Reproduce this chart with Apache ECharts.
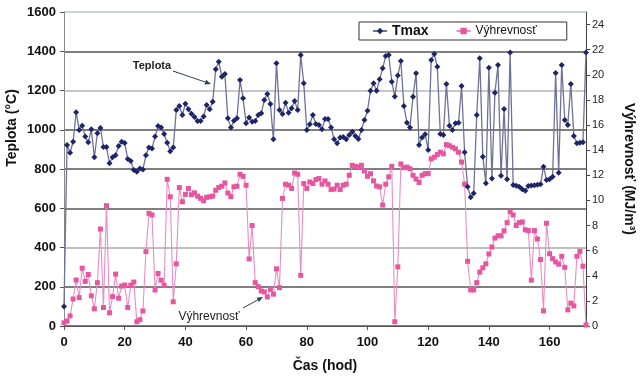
<!DOCTYPE html>
<html>
<head>
<meta charset="utf-8">
<script src="https://cdn.jsdelivr.net/npm/echarts@6/dist/echarts.min.js"></script>
<style>
  html, body { margin: 0; padding: 0; background: #fff; }
  #chart { width: 644px; height: 378px; }
</style>
</head>
<body>
<div id="chart"></div>
<script>
// hodinove hodnoty, hod 0..172
var tmax = [
  100, 922, 883, 939, 1089, 999, 1021, 965, 936, 1002,
  860, 982, 1009, 912, 912, 829, 860, 870, 917, 939,
  932, 851, 841, 795, 786, 803, 798, 870, 909, 905,
  965, 1019, 1011, 978, 934, 891, 909, 1101, 1121, 1075,
  1133, 1105, 1082, 1065, 1045, 1045, 1067, 1126, 1104, 1143,
  1308, 1347, 1270, 1284, 1058, 1012, 1046, 1058, 1253, 1160,
  1033, 1062, 1041, 1045, 1075, 1084, 1152, 1182, 1131, 951,
  1339, 1101, 1080, 1138, 1087, 1109, 1146, 1101, 1381, 1237,
  999, 1028, 1075, 1029, 1024, 1002, 1055, 1055, 1012, 951,
  931, 960, 963, 951, 973, 990, 968, 953, 999, 1050,
  1097, 1199, 1237, 1199, 1257, 1313, 1376, 1381, 1245, 1170,
  1276, 1350, 1121, 1036, 1012, 1168, 1288, 922, 961, 977,
  897, 1355, 1386, 1321, 978, 973, 1233, 1021, 999, 1033,
  1036, 1223, 885, 710, 656, 676, 1075, 1364, 863, 727,
  1316, 752, 1189, 1330, 766, 1106, 748, 1393, 718, 715,
  710, 697, 689, 713, 716, 717, 720, 722, 812, 744,
  748, 761, 1289, 781, 1330, 1050, 1024, 1233, 968, 931,
  934, 936, 1393
];

var vyhrevnost = [
  0.25, 0.4, 0.8, 2.15, 3.66, 2.26, 4.6, 3.55, 4.1, 2.4,
  1.37, 3.45, 7.72, 1.47, 9.58, 1.05, 2.34, 4.13, 2.21, 3.18,
  3.26, 1.47, 3.26, 3.5, 0.34, 0.5, 1.2, 5.92, 8.97, 8.84,
  2.87, 4.18, 3.65, 3.25, 11.68, 10.29, 1.93, 4.95, 11.02, 9.89,
  10.48, 10.95, 10.45, 10.6, 10.34, 10.16, 9.97, 10.24, 10.29, 10.34,
  10.81, 11.03, 11.13, 11.39, 10.58, 10.3, 11.08, 11.13, 12.08, 11.92,
  11.21, 5.34, 8.0, 3.45, 3.13, 2.79, 2.71, 2.31, 2.92, 2.53,
  4.55, 3.05, 10.16, 11.29, 11.21, 10.95, 12.18, 12.08, 4.03, 11.34,
  10.95, 11.47, 11.34, 11.66, 11.74, 11.29, 11.55, 11.29, 10.87, 10.9,
  11.21, 10.87, 11.21, 11.29, 12.0, 12.79, 12.71, 12.65, 12.79, 12.34,
  11.92, 12.13, 11.55, 11.15, 11.08, 9.63, 11.29, 11.87, 12.71, 0.34,
  4.71, 12.9, 12.6, 12.65, 12.52, 12.0, 11.7, 11.43, 12.0, 12.13,
  12.13, 13.31, 13.44, 13.65, 13.84, 13.71, 14.44, 14.36, 14.23, 14.1,
  13.84, 13.05, 11.3, 5.15, 2.87, 2.87, 3.45, 4.29, 4.63, 4.95,
  5.74, 6.29, 7.0, 7.18, 7.18, 7.58, 8.23, 9.1, 8.84, 8.0,
  8.23, 8.29, 7.66, 7.6, 3.65, 7.6, 6.93, 5.29, 1.21, 8.18,
  5.75, 5.36, 5.1, 4.92, 5.55, 4.67, 1.28, 1.82, 1.6, 5.55,
  5.94, 4.76, 0.08
];

var FONT = '"Liberation Sans", Arial, sans-serif';

function pairs(arr) {
  var out = [];
  for (var i = 0; i < arr.length; i++) out.push([i, arr[i]]);
  return out;
}

// sipka pre popis
function arrow(x1, y1, x2, y2) {
  var dx = x2 - x1, dy = y2 - y1;
  var len = Math.sqrt(dx * dx + dy * dy);
  var ux = dx / len, uy = dy / len;
  var bx = x2 - ux * 6, by = y2 - uy * 6;
  return [
    { type: 'line', shape: { x1: x1, y1: y1, x2: bx, y2: by },
      style: { stroke: '#2f3f52', lineWidth: 1 } },
    { type: 'polygon',
      shape: { points: [[x2, y2], [bx - uy * 2.5, by + ux * 2.5], [bx + uy * 2.5, by - ux * 2.5]] },
      style: { fill: '#2f3f52' } }
  ];
}

var chart = echarts.init(document.getElementById('chart'), null, { renderer: 'canvas' });

var option = {
  backgroundColor: '#fff',
  animation: false,
  textStyle: { fontFamily: FONT },
  grid: { left: 64, right: 47, top: 12, bottom: 52 },
  legend: {
    left: 359, top: 22,
    padding: [2, 30, 2, 13],
    borderColor: '#333', borderWidth: 1,
    backgroundColor: '#fff',
    itemWidth: 14, itemHeight: 8, itemGap: 27,
    textStyle: { color: '#111', fontFamily: FONT },
    data: [
      { name: 'Tmax', textStyle: { fontWeight: 'bold', fontSize: 14 } },
      { name: 'Výhrevnosť', textStyle: { fontSize: 12 } }
    ]
  },
  xAxis: {
    type: 'value', min: 0, max: 172, interval: 20,
    name: 'Čas (hod)', nameLocation: 'middle', nameGap: 33,
    nameTextStyle: { fontWeight: 'bold', fontSize: 14, color: '#111' },
    axisLine: { lineStyle: { color: '#555' } },
    axisTick: { length: 4, lineStyle: { color: '#555' } },
    axisLabel: { fontWeight: 'bold', fontSize: 13, color: '#111', margin: 10, showMaxLabel: false },
    splitLine: { show: false }
  },
  yAxis: [
    {
      type: 'value', min: 0, max: 1600, interval: 200,
      axisLine: { show: true, lineStyle: { color: '#888' } },
      axisTick: { show: true, length: 4, lineStyle: { color: '#555' } },
      axisLabel: { fontWeight: 'bold', fontSize: 13, color: '#111', margin: 8,
                   formatter: function (v) { return String(v); } },
      splitLine: {
        show: true,
        lineStyle: {
          width: 1.5,
          color: ['#555', '#555', '#aaa', '#555', '#555', '#555', '#b4b4b4', '#555', '#b6c8cc']
        }
      }
    },
    {
      type: 'value', min: 0, max: 25, interval: 2, position: 'right',
      name: 'Výhrevnosť (MJ/m³)', nameLocation: 'middle', nameGap: 36, nameRotate: -90,
      nameTextStyle: { fontWeight: 'bold', fontSize: 14, color: '#111' },
      axisLine: { show: true, lineStyle: { color: '#444' } },
      axisTick: { show: true, length: 4, lineStyle: { color: '#444' } },
      axisLabel: { fontSize: 11, color: '#222', margin: 6, showMaxLabel: false },
      splitLine: { show: false }
    }
  ],
  series: [
    {
      name: 'Tmax', type: 'line', yAxisIndex: 0,
      data: pairs(tmax),
      symbol: 'diamond', symbolSize: 6,
      lineStyle: { color: '#6d7298', width: 1.3 },
      itemStyle: { color: '#1d2467' },
      z: 3
    },
    {
      name: 'Výhrevnosť', type: 'line', yAxisIndex: 1,
      data: pairs(vyhrevnost),
      symbol: 'rect', symbolSize: 5,
      lineStyle: { color: '#e98cc4', width: 1.1 },
      itemStyle: { color: '#e8559f' },
      z: 2
    }
  ],
  graphic: [
    { type: 'text', x: 12, y: 128, rotation: Math.PI / 2,
      style: { text: 'Teplota (°C)', align: 'center', verticalAlign: 'middle',
               font: 'bold 14px ' + FONT, fill: '#111' } },
    { type: 'text', x: 152, y: 66,
      style: { text: 'Teplota', align: 'center', verticalAlign: 'middle',
               font: 'bold 11px ' + FONT, fill: '#222' } },
    { type: 'text', x: 209, y: 317,
      style: { text: 'Výhrevnosť', align: 'center', verticalAlign: 'middle',
               font: '12px ' + FONT, fill: '#222' } }
  ].concat(arrow(173, 71, 211, 84)).concat(arrow(243, 308, 263, 297))
};

chart.setOption(option);
</script>
</body>
</html>
